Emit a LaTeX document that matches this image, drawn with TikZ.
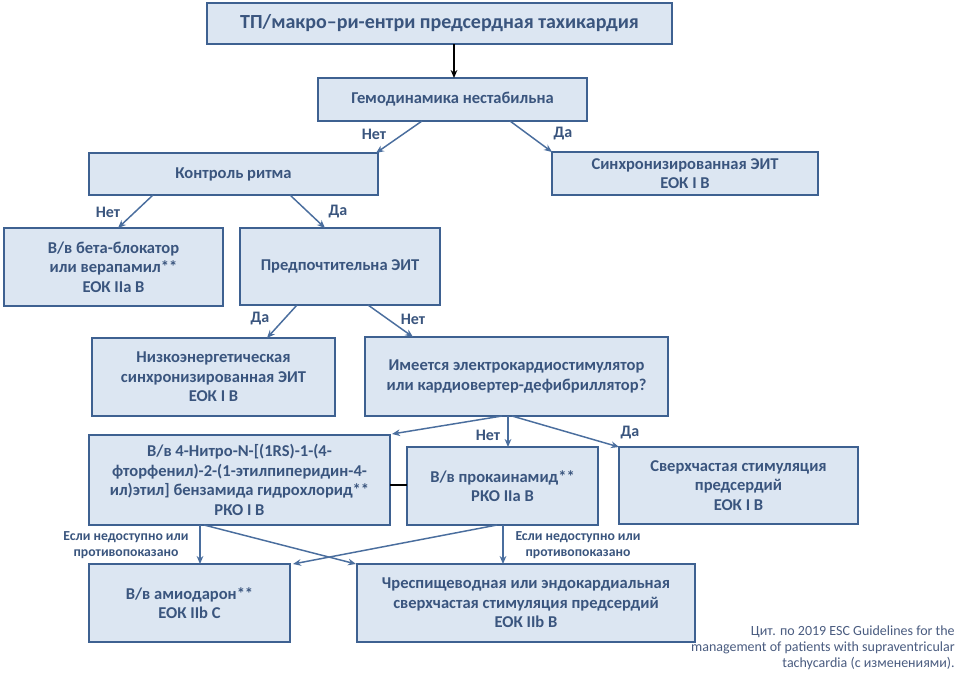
\documentclass[tikz,border=0pt]{standalone}
\usepackage{fontspec}
\setmainfont{Carlito}
\usetikzlibrary{arrows.meta,calc}
\definecolor{boxfill}{HTML}{DCE6F2}
\definecolor{boxdraw}{HTML}{3E6191}
\definecolor{txt}{HTML}{3A557E}
\definecolor{arr}{HTML}{4A6E9E}
\definecolor{note}{HTML}{4A5C80}
\begin{document}
\begin{tikzpicture}[x=0.75pt,y=-0.75pt,
  box/.style={draw=boxdraw,fill=boxfill,line width=1.3pt,text=txt,
    font=\fontsize{12.4}{14.7}\selectfont\bfseries,align=center,inner sep=0pt,outer sep=0pt},
  sz/.style 2 args={minimum width=#1*0.75pt,minimum height=#2*0.75pt},
  conn/.style={draw=arr,line width=1.1pt,-{Stealth[length=6pt,width=5pt]}},
  lbl/.style={text=txt,font=\fontsize{12}{14}\selectfont\bfseries,inner sep=0pt},
  cond/.style={text=txt,font=\fontsize{10.3}{12}\selectfont\bfseries,align=center,inner sep=0pt}]
\useasboundingbox (0,0) rectangle (963,682);
\fill[white] (0,0) rectangle (963,682);

\node[box,sz={465}{41},font=\fontsize{15}{17}\selectfont\bfseries] (top) at (439.5,23.5) {ТП/макро–ри-ентри предсердная тахикардия};
\node[box,sz={269}{43}] (gem) at (452.5,99.5) {Гемодинамика нестабильна};
\node[box,sz={289}{42}] (kontr) at (233.5,174) {Контроль ритма};
\node[box,sz={266}{43}] (sync) at (685,173.5) {Синхронизированная ЭИТ\\ЕОК I B};
\node[box,sz={219}{78}] (beta) at (113.5,267) {В/в бета-блокатор\\или верапамил**\\ЕОК IIa B};
\node[box,sz={200}{77}] (pref) at (340,266.5) {Предпочтительна ЭИТ};
\node[box,sz={243}{78}] (low) at (213.5,377) {Низкоэнергетическая\\синхронизированная ЭИТ\\ЕОК I B};
\node[box,sz={303}{79}] (ecs) at (516.5,376.5) {Имеется электрокардиостимулятор\\или кардиовертер-дефибриллятор?};
\node[box,sz={301}{90}] (nitro) at (239.5,480) {В/в 4-Нитро-N-[(1RS)-1-(4-\\фторфенил)-2-(1-этилпиперидин-4-\\ил)этил] бензамида гидрохлорид**\\РКО I B};
\node[box,sz={191}{78}] (proc) at (502.5,486) {В/в прокаинамид**\\РКО IIa B};
\node[box,sz={239}{77}] (over) at (738.5,485.5) {Сверхчастая стимуляция\\предсердий\\ЕОК I B};
\node[box,sz={201}{78}] (amio) at (189.5,603) {В/в амиодарон**\\ЕОК IIb C};
\node[box,sz={338}{78}] (tee) at (526,603) {Чреспищеводная или эндокардиальная\\сверхчастая стимуляция предсердий\\ЕОК IIb B};

% connectors
\draw[conn,draw=black] ($(top.south west)+(247,0)$) -- ($(gem.north west)+(136,0)$);
\draw[conn] ($(gem.south west)+(104,0)$) -- ($(kontr.north east)+(-2,0)$);
\draw[conn] ($(gem.south west)+(192,0)$) -- (sync.north west);
\draw[conn] ($(kontr.south west)+(64,0)$) -- ($(beta.north west)+(114,0)$);
\draw[conn] ($(kontr.south west)+(201,0)$) -- ($(pref.north west)+(85,0)$);
\draw[conn] ($(pref.south west)+(57,0)$) -- ($(low.north west)+(175,0)$);
\draw[conn] ($(pref.south west)+(128,0)$) -- ($(ecs.north west)+(48,0)$);
\draw[conn] ($(ecs.south west)+(137,0)$) -- ($(nitro.north east)+(2,-1)$);
\draw[conn] ($(ecs.south west)+(143,0)$) -- ($(proc.north west)+(101,0)$);
\draw[conn] ($(ecs.south west)+(147,0)$) -- (over.north west);
\draw[draw=black,line width=1.1pt] ($(nitro.north east)+(0,50)$) -- ($(proc.north west)+(0,38)$);
\draw[conn] ($(nitro.south west)+(111,0)$) -- ($(amio.north west)+(111,0)$);
\draw[conn] ($(nitro.south west)+(115,0)$) -- ($(tee.north west)+(-1,0)$);
\draw[conn] ($(proc.south west)+(90,0)$) -- ($(amio.north east)+(3,0)$);
\draw[conn] ($(proc.south west)+(96,0)$) -- ($(tee.north west)+(146,0)$);

% labels
\node[lbl] (l1) at (374,134) {Нет};
\node[lbl] (l2) at (563,134) {Да};
\node[lbl] (l3) at (108,212) {Нет};
\node[lbl] (l4) at (338,212) {Да};
\node[lbl] (l5) at (260,319) {Да};
\node[lbl] (l6) at (413,319) {Нет};
\node[lbl] (l7) at (488,435) {Нет};
\node[lbl] (l8) at (630,433) {Да};
\node[cond] (c1) at (126,545) {Если недоступно или\\противопоказано};
\node[cond] (c2) at (578,545) {Если недоступно или\\противопоказано};

\node[text=note,font=\fontsize{10.5}{12}\selectfont,align=right,anchor=north east,inner sep=0pt] (src) at (955,626)
  {Цит. по 2019 ESC Guidelines for the\\management of patients with supraventricular\\tachycardia (с изменениями).};
\end{tikzpicture}
\end{document}
